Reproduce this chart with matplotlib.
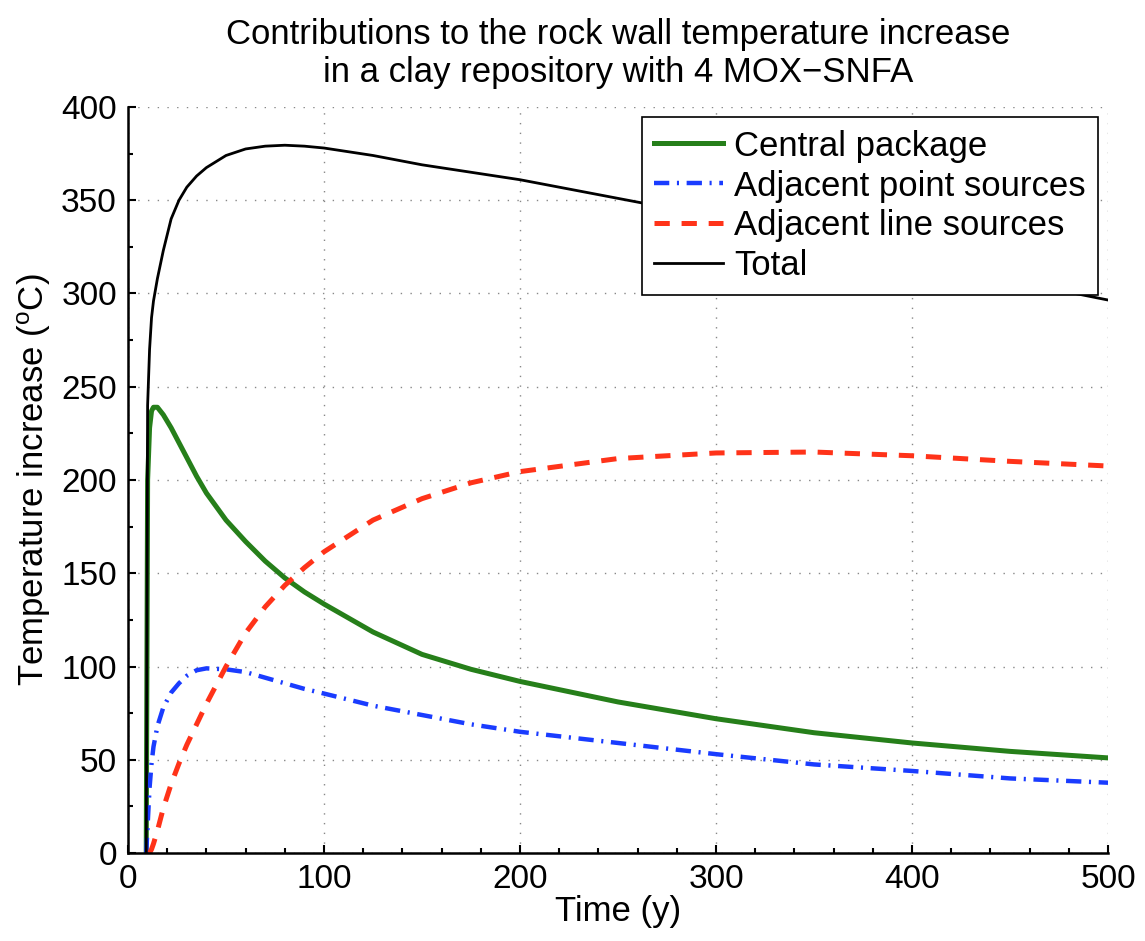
import numpy as np
import matplotlib
matplotlib.use("Agg")
import matplotlib.pyplot as plt
from matplotlib.ticker import MultipleLocator

# values
time_y = [9.3, 10, 11, 12, 13, 15, 18, 22, 26, 30, 35, 40, 50, 60, 70, 80, 90,
          100, 125, 150, 175, 200, 250, 300, 350, 400, 450, 500]
central = [0, 200, 228, 237, 239, 239, 235, 228, 220, 212, 202, 193, 178.5,
           167, 156.5, 147.5, 140, 133.5, 118.5, 106.5, 98.5, 92, 81, 72, 64.5,
           59, 54.5, 51]
point_src = [0, 15, 35, 48, 57, 68, 78, 86, 91, 95, 98, 99, 98.5, 97, 94, 91,
             88, 85.5, 79, 74, 69, 65, 59, 53, 47.5, 44, 40, 37.7]
line_src = [np.nan, np.nan, 0, 2, 5, 12, 24, 37, 48, 58, 69, 80, 100, 118,
            132, 143.5, 153, 161.5, 178.5, 190, 198.5, 204.5, 211.5, 214.5,
            215, 213, 210, 207.5]
total = [0, 240, 270, 287, 296, 308, 323, 340, 350, 357, 363, 367.5, 374,
         377.5, 379, 379.5, 379, 378, 374, 369, 365, 361, 351, 341, 330, 318,
         307, 296.5]

plt.rcParams['font.family'] = ['Liberation Sans', 'DejaVu Sans']
plt.rcParams['mathtext.fontset'] = 'custom'
plt.rcParams['mathtext.rm'] = 'Liberation Sans'
plt.rcParams['mathtext.it'] = 'Liberation Sans'
plt.rcParams['lines.scale_dashes'] = False

fig = plt.figure(figsize=(11.45, 9.41), dpi=100)
ax = fig.add_axes([0.1118, 0.0935, 0.8559, 0.7928])

ax.plot(time_y, central, color='#267f1a', lw=3.6, label='Central package')
ax.plot(time_y, point_src, color='#1a3cff', lw=3.2, dashes=(11, 5.5, 1.5, 5.5),
        label='Adjacent point sources')
ax.plot(time_y, line_src, color='#ff3319', lw=3.6, dashes=(11, 8.5),
        label='Adjacent line sources')
ax.plot(time_y, total, color='black', lw=2.0, label='Total')

ax.set_xlim(0, 500)
ax.set_ylim(0, 400)
ax.xaxis.set_major_locator(MultipleLocator(100))
ax.xaxis.set_minor_locator(MultipleLocator(20))
ax.yaxis.set_major_locator(MultipleLocator(50))
ax.yaxis.set_minor_locator(MultipleLocator(25))
ax.tick_params(which='both', direction='in', labelsize=24, width=1.5)
ax.tick_params(which='major', length=6, pad=8)
ax.tick_params(which='minor', length=3.5)
ax.grid(True, which='major', linestyle=(0, (1, 6)), color='#888888', lw=1)
for s in ['top', 'right']:
    ax.spines[s].set_visible(False)
for s in ['left', 'bottom']:
    ax.spines[s].set_linewidth(1.8)

ax.set_xlabel('Time (y)', fontsize=25, labelpad=0)
ax.set_ylabel(r'Temperature increase ($^{\mathrm{o}}$C)', fontsize=25, labelpad=6)
ax.set_title('Contributions to the rock wall temperature increase\n'
             'in a clay repository with 4 MOX\u2212SNFA', fontsize=25, pad=18)

leg = ax.legend(loc='upper right', fontsize=25, handlelength=2.0, fancybox=False,
                framealpha=1, edgecolor='black', borderpad=0.35, labelspacing=0.2,
                handletextpad=0.3, borderaxespad=0.3)
leg.get_frame().set_linewidth(1.2)

fig.savefig('out.png', dpi=100)
